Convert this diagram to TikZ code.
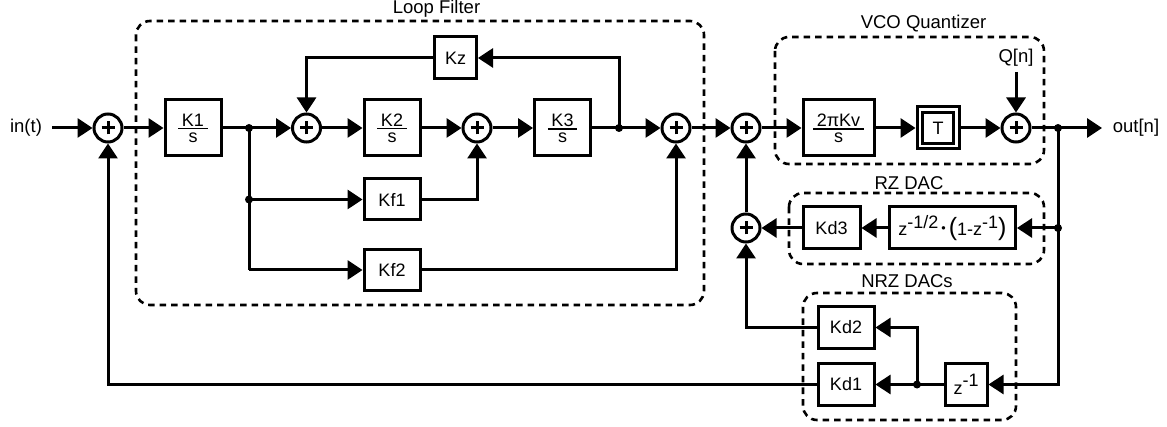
\documentclass[tikz,border=0pt]{standalone}
\usepackage{fontspec}
\setmainfont{Liberation Sans}
\usetikzlibrary{arrows.meta}
\newcommand{\frc}[2]{\vbox{\offinterlineskip\halign{\kern3.5pt\hfil##\hfil\kern3.5pt\cr\hbox{#1}\cr\noalign{\kern2pt\hrule height 1.2pt\kern3pt}\hbox{#2}\cr}}}
\newcommand{\spr}[1]{\raisebox{7.5pt}{#1}}
\tikzset{
  wire/.style={line width=3pt},
  arr/.style={wire,-{Triangle[length=15pt,width=19pt]}},
  blk/.style={draw,line width=3pt,inner sep=0pt,align=center,font=\fontsize{18}{20}\selectfont},
  sumnode/.style={circle,draw,line width=3pt,minimum size=28pt,inner sep=0pt,
    path picture={\draw[line width=3pt] (path picture bounding box.center) ++(-6.5pt,0) -- ++(13pt,0);
                  \draw[line width=3pt] (path picture bounding box.center) ++(0,-6.5pt) -- ++(0,13pt);}},
  dot/.style={circle,fill,inner sep=0pt,minimum size=8pt},
  grp/.style={draw,line width=2.6pt,rounded corners=14pt,dash pattern=on 6.5pt off 5pt},
  lbl/.style={inner sep=0pt,font=\fontsize{18.5}{20}\selectfont},
}
\begin{document}
\begin{tikzpicture}[x=1pt,y=-1pt]
\useasboundingbox (0,0) rectangle (1167,427);
% groups
\draw[grp] (136,21) rectangle (704,305);
\draw[grp] (775,37) rectangle (1044,164);
\draw[grp] (789,193) rectangle (1044,264);
\draw[grp] (803,293) rectangle (1016,420);
\node[lbl] (tloop) at (436.5,9) {Loop Filter};
\node[lbl] (tvco) at (923.5,24) {VCO Quantizer};
\node[lbl] (trz) at (909,183) {RZ DAC};
\node[lbl] (tnrz) at (907,281) {NRZ DACs};
% sums
\node[sumnode] (s1) at (108,128) {};
\node[sumnode] (s2) at (306.5,128) {};
\node[sumnode] (s3) at (477,128) {};
\node[sumnode] (s4) at (676,128) {};
\node[sumnode] (s5) at (746,128) {};
\node[sumnode] (s6) at (1016,128) {};
\node[sumnode] (s7) at (746,228) {};
% blocks
\node[blk,minimum width=56pt,minimum height=56pt] (k1) at (193,128) {\frc{K1}{s}};
\node[blk,minimum width=56pt,minimum height=56pt] (k2) at (392,128) {\frc{K2}{s}};
\node[blk,minimum width=56pt,minimum height=56pt] (k3) at (562.5,128) {\frc{K3}{s}};
\node[blk,minimum width=42pt,minimum height=42pt] (kz) at (455.5,58) {Kz};
\node[blk,minimum width=56pt,minimum height=41pt] (kf1) at (392,199.5) {Kf1};
\node[blk,minimum width=56pt,minimum height=41pt] (kf2) at (392,270) {Kf2};
\node[blk,minimum width=71pt,minimum height=56pt] (kv) at (838.5,128) {\frc{2πKv}{s}};
\node[blk,minimum width=42pt,minimum height=42pt] (t) at (938,128) {};
\node[blk,minimum width=31pt,minimum height=31pt] (ti) at (938,128) {T};
\node[blk,minimum width=57pt,minimum height=42pt] (kd3) at (831.5,228) {Kd3};
\node[blk,minimum width=126pt,minimum height=42pt] (rz) at (952.5,228) {z\spr{-1/2}\,\raisebox{3pt}{\scalebox{.7}{•}}\,{\fontsize{25}{25}\selectfont(}1-z\spr{-1}{\fontsize{25}{25}\selectfont)}};
\node[blk,minimum width=56pt,minimum height=42pt] (kd2) at (846,327.5) {Kd2};
\node[blk,minimum width=56pt,minimum height=42pt] (kd1) at (846,384.5) {Kd1};
\node[blk,minimum width=42pt,minimum height=42pt] (zd) at (966,384.5) {z\spr{-1}};
% text ends
\node[lbl] (in) at (26,128) {in(t)};
\node[lbl] (out) at (1136,128) {out[n]};
\node[lbl] (q) at (1016,58) {Q[n]};
% junctions
\node[dot] (j1) at (249,128) {};
\node[dot] (j2) at (249,199.5) {};
\node[dot] (j3) at (619,128) {};
\node[dot] (j4) at (1058,128) {};
\node[dot] (j5) at (1058,228) {};
\node[dot] (j6) at (917,384.5) {};
\coordinate (cin) at (52,128);
\coordinate (cout) at (1102,128);
\coordinate (cq) at (1016,72);
\coordinate (cf) at (249,270);
% forward path
\draw[arr] (cin) -- (s1.west);
\draw[arr] (s1.east) -- (k1.west);
\draw[wire] (k1.east) -- (j1.center);
\draw[arr] (j1.center) -- (s2.west);
\draw[arr] (s2.east) -- (k2.west);
\draw[arr] (k2.east) -- (s3.west);
\draw[arr] (s3.east) -- (k3.west);
\draw[wire] (k3.east) -- (j3.center);
\draw[arr] (j3.center) -- (s4.west);
\draw[arr] (s4.east) -- (s5.west);
\draw[arr] (s5.east) -- (kv.west);
\draw[arr] (kv.east) -- (t.west);
\draw[arr] (t.east) -- (s6.west);
\draw[wire] (s6.east) -- (j4.center);
\draw[arr] (j4.center) -- (cout);
\draw[arr] (cq) -- (s6.north);
% loop filter branches
\draw[wire] (j1.center) -- (j2.center) -- (cf);
\draw[arr] (j2.center) -- (kf1.west);
\draw[arr] (cf) -- (kf2.west);
\draw[arr] (kf1.east) -| (s3.south);
\draw[arr] (kf2.east) -| (s4.south);
\draw[arr] (j3.center) |- (kz.east);
\draw[arr] (kz.west) -| (s2.north);
% DAC feedback
\draw[wire] (j4.center) -- (j5.center);
\draw[arr] (j5.center) -- (rz.east);
\draw[arr] (rz.west) -- (kd3.east);
\draw[arr] (kd3.west) -- (s7.east);
\draw[arr] (s7.north) -- (s5.south);
\draw[arr] (j5.center) |- (zd.east);
\draw[wire] (zd.west) -- (j6.center);
\draw[arr] (j6.center) -- (kd1.east);
\draw[arr] (j6.center) |- (kd2.east);
\draw[arr] (kd2.west) -| (s7.south);
\draw[arr] (kd1.west) -| (s1.south);
\end{tikzpicture}
\end{document}
